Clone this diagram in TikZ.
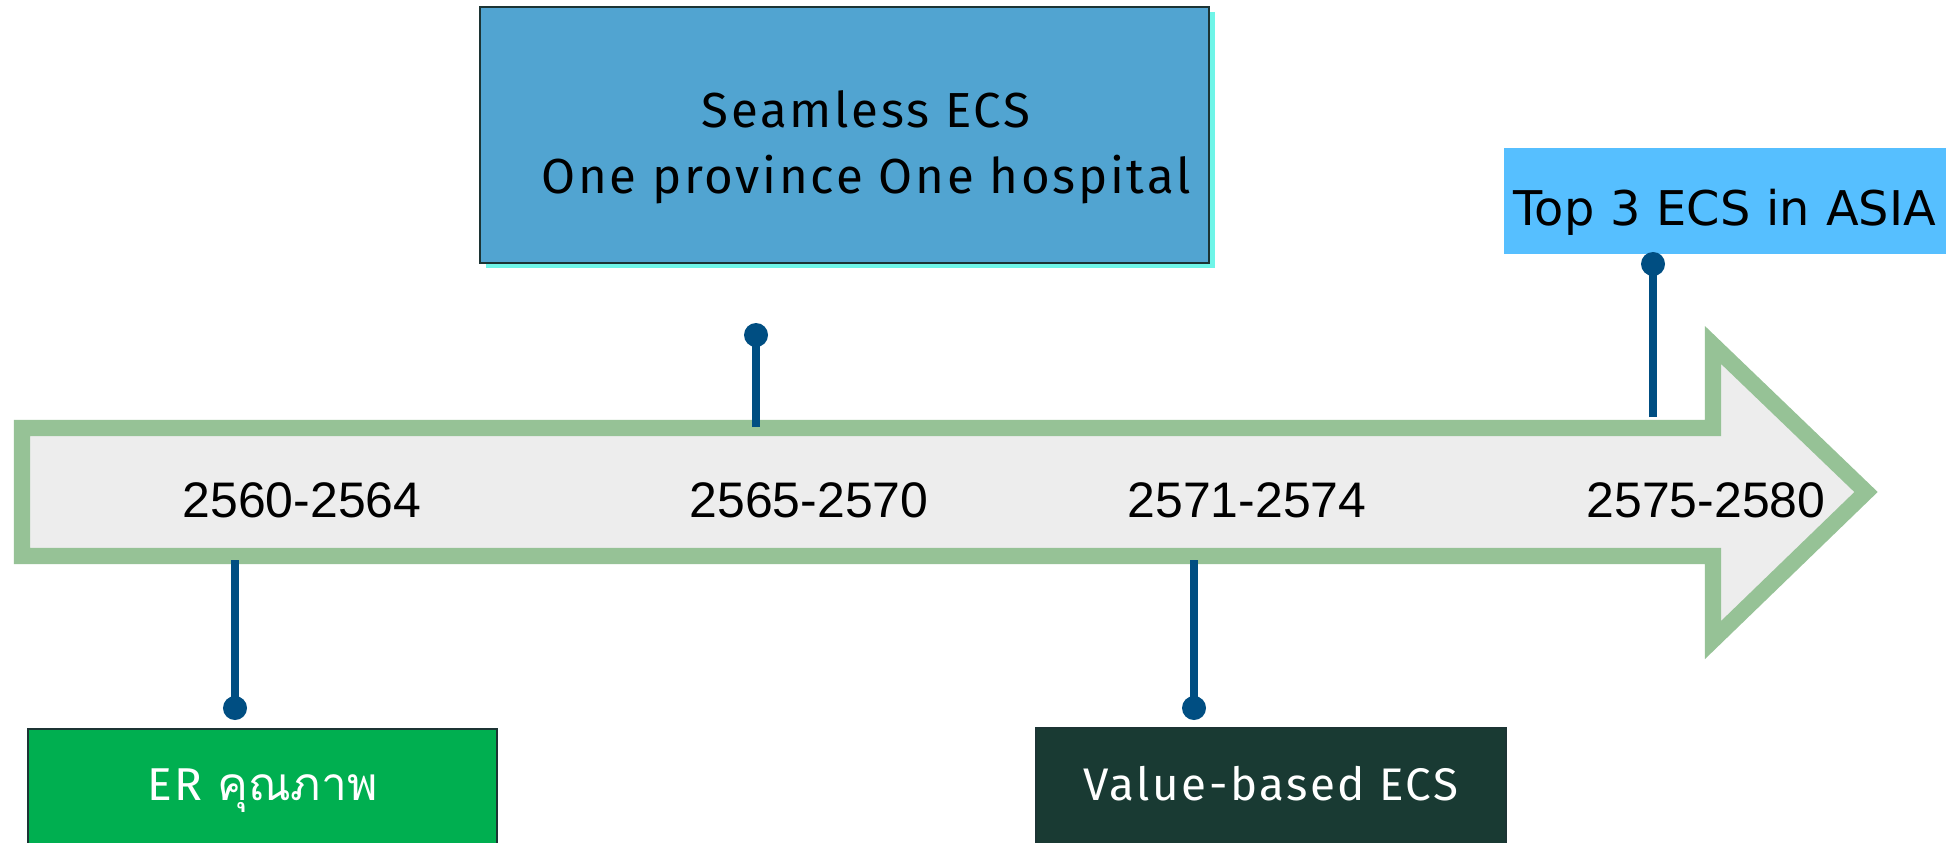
\documentclass[tikz,border=0pt]{standalone}
\usepackage{fontspec}
\usetikzlibrary{shadows}
\setmainfont{Liberation Sans}
\newfontfamily\thaifont[Script=Thai]{Loma}
\newfontfamily\firafont[LetterSpace=5.5]{Fira Sans}
\newfontfamily\verafont{DejaVu Sans}
\definecolor{shaftgray}{HTML}{EDEDED}
\definecolor{shaftgreen}{HTML}{96C296}
\definecolor{stemblue}{HTML}{004E82}
\definecolor{seablue}{HTML}{51A4D1}
\definecolor{skyblue}{HTML}{56BFFF}
\definecolor{ergreen}{HTML}{00AF50}
\definecolor{deepgreen}{HTML}{193A33}
\definecolor{edgedark}{HTML}{1C3434}
\definecolor{glowcyan}{HTML}{6FF5E8}

\begin{document}
\begin{tikzpicture}[x=0.01cm, y=-0.01cm,
  box/.style={draw=edgedark, line width=0.6pt, rectangle, inner sep=0pt},
  stem/.style={stemblue, line width=2.3pt},
  pindot/.style={circle, fill=stemblue, inner sep=0pt, minimum size=0.24cm},
  year/.style={font=\fontsize{14.2}{17}\selectfont, anchor=base}]
  \clip (0,0) rectangle (1946,842);
  \fill[white] (0,0) rectangle (1946,842);

  % timeline arrow
  \draw[shaftgreen, fill=shaftgray, line width=4.6pt, line join=miter]
    (22,428) -- (1713,428) -- (1713,345) -- (1866,492) -- (1713,640) -- (1713,556) -- (22,556) -- cycle;
  \node[year] (y1) at (302,517) {2560-2564};
  \node[year] (y2) at (809,517) {2565-2570};
  \node[year] (y3) at (1247,517) {2571-2574};
  \node[year] (y4) at (1706,517) {2575-2580};

  % milestone boxes
  \node[box, fill=seablue, minimum width=7.29cm, minimum height=2.56cm,
    drop shadow={shadow xshift=0.06cm, shadow yshift=-0.05cm, fill=glowcyan, opacity=1}]
    (seamless) at (844.5,135) {};
  \node[font=\firafont\fontsize{14}{18.5}\selectfont, align=center, anchor=base] (seamlesstext) at (866,193)
    {Seamless ECS\\One province One hospital};
  \node[fill=skyblue, anchor=north west, inner xsep=0.1cm, inner ysep=0pt, text width=4.4cm,
    text height=0.78cm, text depth=0.28cm, font=\verafont\fontsize{13.6}{16}\selectfont]
    (top3) at (1503,147) {Top 3 ECS in ASIA};
  \node[box, fill=ergreen, text=white, anchor=north, minimum width=4.69cm,
    text height=0.71cm, text depth=1.05cm, font=\firafont\fontsize{13.1}{15}\selectfont]
    (er) at (262.5,728) {ER {\thaifont คุณภาพ}};
  \node[box, fill=deepgreen, text=white, anchor=north, minimum width=4.70cm,
    text height=0.72cm, text depth=1.05cm, font=\firafont\fontsize{13}{15}\selectfont]
    (value) at (1271,727) {Value-based ECS};

  % pins from the arrow
  \node[pindot] (d1) at (235,708) {};
  \node[pindot] (d2) at (756,335) {};
  \node[pindot] (d3) at (1194,708) {};
  \node[pindot] (d4) at (1653,264) {};
  \coordinate (s1) at (235,560);
  \coordinate (s2) at (756,427);
  \coordinate (s3) at (1194,560);
  \coordinate (s4) at (1653,417);
  \draw[stem] (s1) -- (d1.center);
  \draw[stem] (s2) -- (d2.center);
  \draw[stem] (s3) -- (d3.center);
  \draw[stem] (s4) -- (d4.center);
\end{tikzpicture}
\end{document}
